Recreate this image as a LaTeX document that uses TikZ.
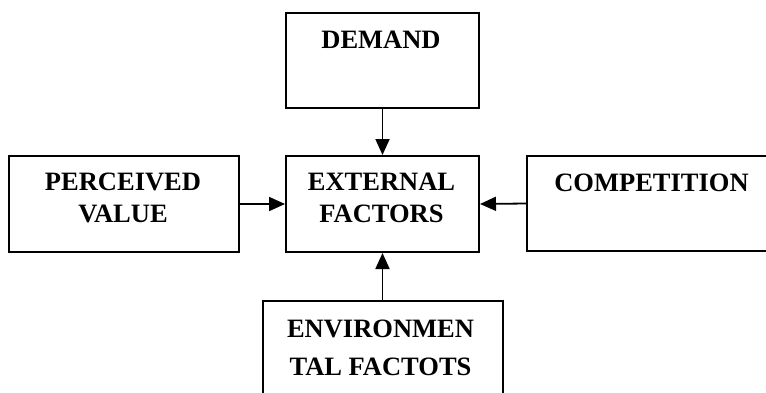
\documentclass[tikz,border=0pt]{standalone}
\usepackage{fontspec}
\setmainfont{Liberation Serif}
\usetikzlibrary{arrows.meta}
\begin{document}
\begin{tikzpicture}[x=1pt,y=-1pt,
  box/.style={draw=black, line width=2pt, rectangle, inner sep=0pt, anchor=north west},
  lbl/.style={font=\fontsize{26.5}{32}\selectfont\bfseries, align=center, inner sep=0pt},
  conn/.style={line width=1.8pt, -{Triangle[length=16pt,width=14pt]}}]
\clip (0,0) rectangle (766,392);
\fill[white] (0,0) rectangle (766,392);
\node[box, minimum width=193pt, minimum height=95pt] (demand) at (285,12) {};
\node[box, minimum width=193pt, minimum height=96pt] (external) at (285,155) {};
\node[box, minimum width=230pt, minimum height=96pt] (perceived) at (8,155) {};
\node[box, minimum width=260pt, minimum height=95pt] (competition) at (526,155) {};
\node[box, minimum width=240pt, minimum height=110pt] (environ) at (262,300) {};
\node[lbl] (demandT) at (381,40) {DEMAND};
\node[lbl] (externalT) at (381.5,198) {EXTERNAL\\FACTORS};
\node[lbl] (perceivedT) at (123,198) {PERCEIVED\\VALUE};
\node[lbl] (competitionT) at (651.5,182.5) {COMPETITION};
\node[lbl, font=\fontsize{26.5}{38}\selectfont\bfseries] (environT) at (380.5,347.5) {ENVIRONMEN\\TAL FACTOTS};
\draw[conn] (demand.south) -- (external.north);
\draw[conn] (perceived.east) -- (external.west);
\draw[conn] (competition.west) -- (external.east);
\draw[conn] (external.south |- environ.north) -- (external.south);
\end{tikzpicture}
\end{document}
